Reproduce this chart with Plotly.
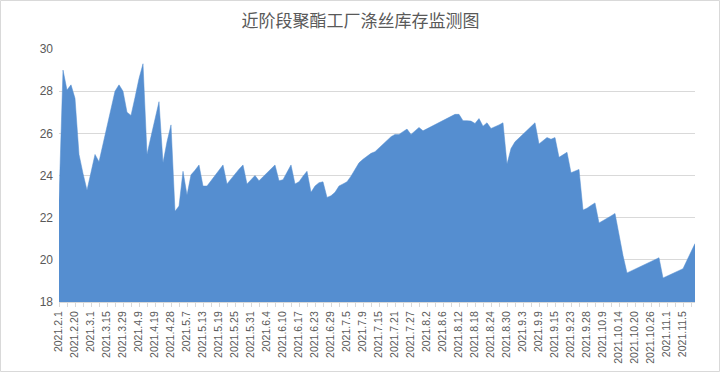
import plotly.graph_objects as go

title_text = "近阶段聚酯工厂涤丝库存监测图"

dates = [
    "2021.2.1", "2021.2.3", "2021.2.5", "2021.2.9",
    "2021.2.20", "2021.2.22", "2021.2.24", "2021.2.26",
    "2021.3.1", "2021.3.4", "2021.3.8", "2021.3.11",
    "2021.3.15", "2021.3.18", "2021.3.22", "2021.3.25",
    "2021.3.29", "2021.3.31", "2021.4.2", "2021.4.7",
    "2021.4.9", "2021.4.12", "2021.4.14", "2021.4.16",
    "2021.4.19", "2021.4.21", "2021.4.23", "2021.4.26",
    "2021.4.28", "2021.4.29", "2021.4.30", "2021.5.6",
    "2021.5.7", "2021.5.10", "2021.5.11", "2021.5.12",
    "2021.5.13", "2021.5.14", "2021.5.17", "2021.5.18",
    "2021.5.19", "2021.5.20", "2021.5.21", "2021.5.24",
    "2021.5.25", "2021.5.26", "2021.5.27", "2021.5.28",
    "2021.5.31", "2021.6.1", "2021.6.2", "2021.6.3",
    "2021.6.4", "2021.6.7", "2021.6.8", "2021.6.9",
    "2021.6.10", "2021.6.11", "2021.6.15", "2021.6.16",
    "2021.6.17", "2021.6.18", "2021.6.21", "2021.6.22",
    "2021.6.23", "2021.6.24", "2021.6.25", "2021.6.28",
    "2021.6.29", "2021.6.30", "2021.7.1", "2021.7.2",
    "2021.7.5", "2021.7.6", "2021.7.7", "2021.7.8",
    "2021.7.9", "2021.7.12", "2021.7.13", "2021.7.14",
    "2021.7.15", "2021.7.16", "2021.7.19", "2021.7.20",
    "2021.7.21", "2021.7.22", "2021.7.23", "2021.7.26",
    "2021.7.27", "2021.7.28", "2021.7.29", "2021.7.30",
    "2021.8.2", "2021.8.3", "2021.8.4", "2021.8.5",
    "2021.8.6", "2021.8.9", "2021.8.10", "2021.8.11",
    "2021.8.12", "2021.8.13", "2021.8.16", "2021.8.17",
    "2021.8.18", "2021.8.19", "2021.8.20", "2021.8.23",
    "2021.8.24", "2021.8.25", "2021.8.26", "2021.8.27",
    "2021.8.30", "2021.8.31", "2021.9.1", "2021.9.2",
    "2021.9.3", "2021.9.6", "2021.9.7", "2021.9.8",
    "2021.9.9", "2021.9.10", "2021.9.13", "2021.9.14",
    "2021.9.15", "2021.9.16", "2021.9.17", "2021.9.22",
    "2021.9.23", "2021.9.24", "2021.9.26", "2021.9.27",
    "2021.9.28", "2021.9.29", "2021.9.30", "2021.10.8",
    "2021.10.9", "2021.10.11", "2021.10.12", "2021.10.13",
    "2021.10.14", "2021.10.15", "2021.10.18", "2021.10.19",
    "2021.10.20", "2021.10.21", "2021.10.22", "2021.10.25",
    "2021.10.26", "2021.10.27", "2021.10.28", "2021.10.29",
    "2021.11.1", "2021.11.2", "2021.11.3", "2021.11.4",
    "2021.11.5", "2021.11.8", "2021.11.9", "2021.11.10",
]

inventory_days = [
    22.8, 29.0, 28.05, 28.3, 27.66, 25.0, 24.1, 23.3, 24.15, 25.0,
    24.65, 25.5, 26.4, 27.3, 28.0, 28.3, 28.0, 27.0, 26.85, 27.7,
    28.6, 29.3, 25.0, 25.85, 26.7, 27.5, 24.6, 25.6, 26.4, 22.3,
    22.55, 24.2, 23.07, 24.03, 24.25, 24.5, 23.5, 23.5, 23.75, 24.0,
    24.25, 24.5, 23.6, 23.85, 24.1, 24.3, 24.5, 23.6, 23.8, 24.0,
    23.75, 23.95, 24.15, 24.35, 24.5, 23.75, 23.8, 24.15, 24.5, 23.6,
    23.7, 23.97, 24.2, 23.2, 23.5, 23.66, 23.7, 22.96, 23.04, 23.2,
    23.5, 23.6, 23.7, 23.97, 24.26, 24.6, 24.77, 24.92, 25.05, 25.13,
    25.3, 25.5, 25.63, 25.84, 25.95, 25.95, 26.08, 26.2, 25.95, 26.12,
    26.28, 26.12, 26.22, 26.32, 26.42, 26.52, 26.61, 26.71, 26.8, 26.9,
    26.9, 26.6, 26.6, 26.58, 26.47, 26.7, 26.34, 26.5, 26.23, 26.3,
    26.4, 26.5, 24.54, 25.28, 25.6, 25.78, 25.96, 26.14, 26.32, 26.5,
    25.5, 25.65, 25.8, 25.72, 25.8, 24.86, 24.98, 25.1, 24.13, 24.2,
    24.29, 22.36, 22.45, 22.58, 22.7, 21.75, 21.85, 21.95, 22.08, 22.2,
    21.1, 20.2, 19.38, 19.47, 19.56, 19.65, 19.74, 19.83, 19.92, 20.01,
    20.1, 19.14, 19.23, 19.32, 19.4, 19.49, 19.58, 19.98, 20.38, 20.77,
]

y_ticks = [18, 20, 22, 24, 26, 28, 30]
label_step = 4
tick_step = 2

tick_vals = dates[::tick_step]
tick_text = [d if (k * tick_step) % label_step == 0 else "" for k, d in enumerate(tick_vals)]

fill_color = "#558ED0"
grid_color = "#D9D9D9"
text_color = "#595959"

fig = go.Figure()
fig.add_trace(go.Scatter(
    x=dates, y=inventory_days,
    mode="lines", fill="tozeroy",
    line=dict(color=fill_color, width=0.5),
    fillcolor=fill_color,
    hoverinfo="x+y", showlegend=False,
))

W, H = 721, 373
ml, mr, mt, mb = 59, 26, 49, 71
pw, ph = W - ml - mr, H - mt - mb

fig.update_layout(
    width=W, height=H,
    margin=dict(l=ml, r=mr, t=mt, b=mb),
    paper_bgcolor="white", plot_bgcolor="white",
    title=dict(text=title_text, x=0.5, xanchor="center", y=1 - 21.5 / H, yanchor="middle",
               font=dict(family="Noto Sans CJK SC", size=17, color=text_color)),
    xaxis=dict(
        type="category", range=[0, len(dates) - 1],
        tickmode="array", tickvals=tick_vals, ticktext=tick_text,
        tickangle=-90, ticks="outside", ticklen=4, tickcolor=grid_color, tickwidth=1,
        showline=True, linecolor=grid_color, linewidth=1,
        showgrid=False, automargin=False,
        tickfont=dict(family="Liberation Sans", size=10.5, color=text_color),
    ),
    yaxis=dict(
        range=[18, 30], tickvals=y_ticks, showgrid=True, gridcolor=grid_color, gridwidth=1,
        zeroline=False, showline=False, ticks="", automargin=False, ticklabelstandoff=5,
        tickfont=dict(family="Liberation Sans", size=12, color=text_color),
    ),
    shapes=[dict(
        type="rect", xref="paper", yref="paper",
        x0=(0.5 - ml) / pw, x1=(W - 1.5 - ml) / pw,
        y0=-(mb - 1.5) / ph, y1=(ph + mt - 0.5) / ph,
        line=dict(color=grid_color, width=1), layer="below",
    )],
)

fig.write_html(
    "out.html",
    config={"displayModeBar": False},
    post_script="document.body.style.margin='0';document.body.style.overflow='hidden';",
)
